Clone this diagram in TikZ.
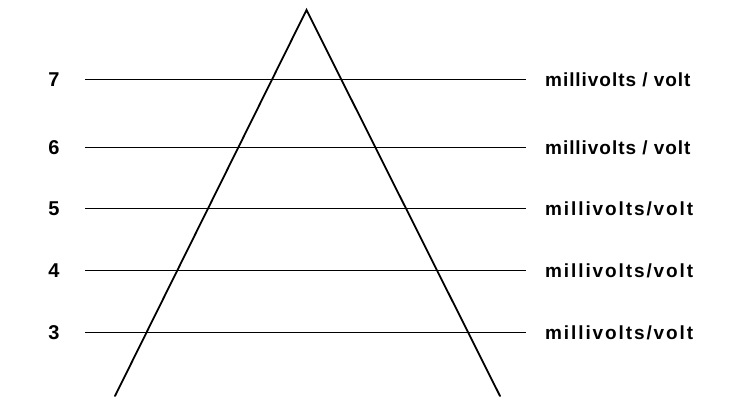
\documentclass[tikz,border=0pt]{standalone}
\usepackage{fontspec}
\setmainfont{Liberation Sans}
\newfontfamily\unitA[LetterSpace=5]{Liberation Sans}
\newfontfamily\unitB[LetterSpace=10]{Liberation Sans}
\begin{document}
\begin{tikzpicture}[x=1pt,y=-1pt,
  level/.style={line width=0.8pt},
  side/.style={line width=1.8pt, line cap=round, line join=miter},
  num/.style={font=\fontsize{20}{20}\selectfont\bfseries, anchor=center, inner sep=0pt},
  unitlbl/.style={anchor=base west, inner sep=0pt}]
\useasboundingbox (0,0) rectangle (733,413);
% triangle sides
\coordinate (apex) at (306.5,10);
\coordinate (lf) at (115,396);
\coordinate (rf) at (500,396);
\draw[side] (lf) -- (apex) -- (rf);
% levels
\foreach \v/\y/\txt/\fam in {7/79/{millivolts / volt}/\unitA,
                        6/147/{millivolts / volt}/\unitA,
                        5/208/{millivolts/volt}/\unitB,
                        4/270/{millivolts/volt}/\unitB,
                        3/332/{millivolts/volt}/\unitB}{
  \coordinate (l\v) at (85,\y);
  \coordinate (r\v) at (526,\y);
  \draw[level] (l\v) -- (r\v);
  \node[num] (n\v) at (54,\y+1) {\v};
  \node[unitlbl] (u\v) at (545,\y+7) {\fontsize{19}{19}\fam\bfseries\txt};
}
\end{tikzpicture}
\end{document}
